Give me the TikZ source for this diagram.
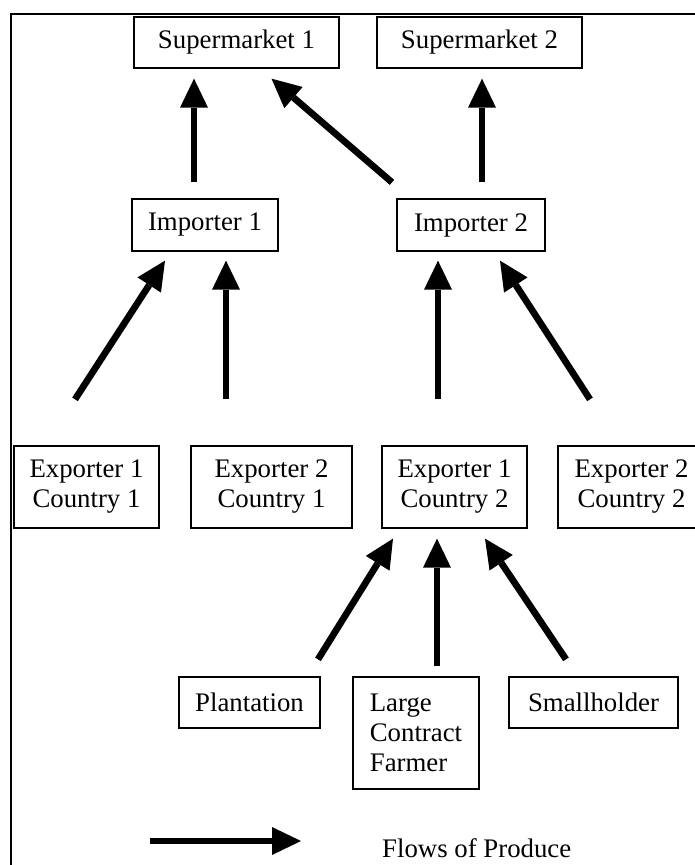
\documentclass[tikz,border=0pt]{standalone}
\usepackage{fontspec}
\setmainfont{Liberation Serif}
\usetikzlibrary{arrows.meta}

\begin{document}
\begin{tikzpicture}[
  x=1pt, y=-1pt,
  every node/.style={font=\fontsize{26.8}{30}\selectfont},
  box/.style={draw, rectangle, line width=1.3pt, align=center, inner sep=0pt, minimum height=51pt},
  flow/.style={-{Triangle[length=29pt, width=28pt, line width=0pt]}, line width=6.7pt}
]
\clip (0,0) rectangle (695,865);

% Frame
\draw[line width=1.3pt] (11,14) rectangle (720,890);

% Supermarkets
\node[box, minimum width=205pt] (sm1) at (236.5,42.5) {Supermarket 1};
\node[box, minimum width=205pt] (sm2) at (479.5,42.5) {Supermarket 2};

% Importers
\node[box, minimum width=146pt, minimum height=52pt] (imp1) at (205,225) {Importer 1};
\node[box, minimum width=148pt, minimum height=52pt] (imp2) at (471,225) {Importer 2};

% Exporters
\node[box, minimum width=145pt, minimum height=82pt] (exp11) at (86.5,487) {Exporter 1\\Country 1};
\node[box, minimum width=161pt, minimum height=82pt] (exp21) at (271.5,487) {Exporter 2\\Country 1};
\node[box, minimum width=145pt, minimum height=82pt] (exp12) at (454.5,487) {Exporter 1\\Country 2};
\node[box, minimum width=147pt, minimum height=82pt] (exp22) at (631.5,487) {Exporter 2\\Country 2};

% Growers
\node[box, minimum width=141pt] (plant) at (249.5,702.5) {Plantation};
\node[box, minimum width=126pt, minimum height=112pt, align=left] (large) at (416,733) {Large\\Contract\\Farmer};
\node[box, minimum width=169pt] (small) at (593.5,702.5) {Smallholder};

% Legend
\coordinate (legtail) at (150,841);
\coordinate (legtip) at (301,841);
\node[anchor=base west, inner sep=0pt] (legend) at (382,857) {Flows of Produce};

% Arrows
\draw[flow] ([xshift=-11pt, yshift=16pt]imp1.north) -- ([xshift=-42.5pt, yshift=-10pt]sm1.south);
\draw[flow] ([xshift=-79pt, yshift=16pt]imp2.north) -- ([xshift=35pt, yshift=-10pt]sm1.south);
\draw[flow] ([xshift=11pt, yshift=16pt]imp2.north) -- ([xshift=2.5pt, yshift=-10pt]sm2.south);
\draw[flow] ([xshift=-11.5pt, yshift=46pt]exp11.north) -- ([xshift=-40pt, yshift=-9pt]imp1.south);
\draw[flow] ([xshift=-45.5pt, yshift=46pt]exp21.north) -- ([xshift=21pt, yshift=-9pt]imp1.south);
\draw[flow] ([xshift=-16.5pt, yshift=46pt]exp12.north) -- ([xshift=-33pt, yshift=-9pt]imp2.south);
\draw[flow] ([xshift=-41.5pt, yshift=46pt]exp22.north) -- ([xshift=29pt, yshift=-9pt]imp2.south);
\draw[flow] ([xshift=68.5pt, yshift=17pt]plant.north) -- ([xshift=-61.5pt, yshift=-10pt]exp12.south);
\draw[flow] ([xshift=21pt, yshift=10pt]large.north) -- ([xshift=-17.5pt, yshift=-10pt]exp12.south);
\draw[flow] ([xshift=-27.5pt, yshift=17pt]small.north) -- ([xshift=30.5pt, yshift=-10pt]exp12.south);
\draw[flow] (legtail) -- (legtip);

\end{tikzpicture}
\end{document}
